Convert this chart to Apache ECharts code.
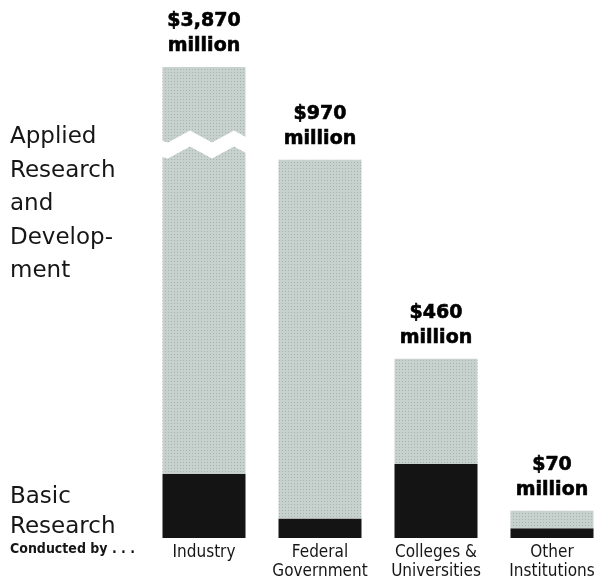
<!DOCTYPE html>
<html>
<head>
<meta charset="utf-8">
<script src="https://cdn.jsdelivr.net/npm/echarts@6/dist/echarts.min.js"></script>
<style>
  html, body { margin: 0; padding: 0; background: #fff; }
  #chart { width: 601px; height: 580px; }
</style>
</head>
<body>
<div id="chart"></div>
<script>
// values in millions of dollars
var categories = ['Industry', 'Federal\nGovernment', 'Colleges &\nUniversities', 'Other\nInstitutions'];
var basicResearch = [165, 50, 190, 25];
var appliedResearch = [3705, 920, 270, 45];
var totals = basicResearch.map(function (v, i) { return v + appliedResearch[i]; });

var chart = echarts.init(document.getElementById('chart'), null, { renderer: 'canvas' });

var sideFont = '"DejaVu Sans", sans-serif';
var catFont = '"DejaVu Sans Condensed", "Liberation Sans", sans-serif';

function sideText(txt, y) {
    return {
        type: 'text',
        left: 10,
        top: y,
        style: {
            text: txt,
            font: '23px ' + sideFont,
            fill: '#161616'
        }
    };
}

chart.setOption({
    backgroundColor: '#fff',
    animation: false,
    grid: { left: 146, width: 464, top: 67, bottom: 42, outerBoundsMode: 'none', containLabel: false },
    xAxis: {
        type: 'category',
        data: categories,
        axisLine: { show: false },
        axisTick: { show: false },
        axisLabel: {
            interval: 0,
            hideOverlap: false,
            margin: 5,
            color: '#161616',
            fontFamily: catFont,
            fontSize: 17,
            lineHeight: 19
        }
    },
    yAxis: {
        type: 'value',
        min: 0,
        max: 3870,
        axisLine: { show: false },
        axisTick: { show: false },
        axisLabel: { show: false },
        splitLine: { show: false },
        // gap is in axis units here
        breaks: [{ start: 990, end: 3693, gap: 41 }],
        breakArea: {
            show: true,
            expandOnClick: false,
            zigzagAmplitude: 6,
            zigzagMinSpan: 22,
            zigzagMaxSpan: 22,
            zigzagZ: 100,
            itemStyle: { color: '#fff', borderWidth: 0, opacity: 1 }
        }
    },
    series: [
        {
            name: 'Basic Research',
            type: 'bar',
            stack: 'total',
            barWidth: 83,
            data: basicResearch,
            itemStyle: { color: '#141414' }
        },
        {
            name: 'Applied Research and Development',
            type: 'bar',
            stack: 'total',
            barWidth: 83,
            data: appliedResearch,
            itemStyle: {
                color: '#c7d1ce',
                decal: {
                    symbol: 'rect',
                    symbolSize: 1,
                    color: 'rgba(110,120,118,0.35)',
                    dashArrayX: [1, 2],
                    dashArrayY: [1, 2],
                    rotation: 0
                }
            }
        },
        {
            // total labels, on their own layer so the break band does not cover them
            name: 'Total',
            type: 'scatter',
            zlevel: 1,
            symbolSize: 0,
            data: totals,
            itemStyle: { opacity: 1 },
            label: {
                show: true,
                position: 'top',
                distance: 8,
                color: '#000',
                opacity: 1,
                fontFamily: '"DejaVu Sans", sans-serif',
                fontWeight: 'bold',
                fontSize: 19,
                lineHeight: 25,
                textBorderColor: '#000',
                textBorderWidth: 0.6,
                formatter: function (p) {
                    return '$' + p.value.toLocaleString('en-US') + '\nmillion';
                }
            }
        }
    ],
    graphic: [
        sideText('Applied', 126),
        sideText('Research', 160),
        sideText('and', 193),
        sideText('Develop-', 227),
        sideText('ment', 260),
        sideText('Basic', 486),
        sideText('Research', 516),
        {
            type: 'text',
            left: 10,
            top: 542,
            style: {
                text: 'Conducted by . . .',
                font: 'bold 14px ' + catFont,
                fill: '#161616'
            }
        }
    ]
});
</script>
</body>
</html>
